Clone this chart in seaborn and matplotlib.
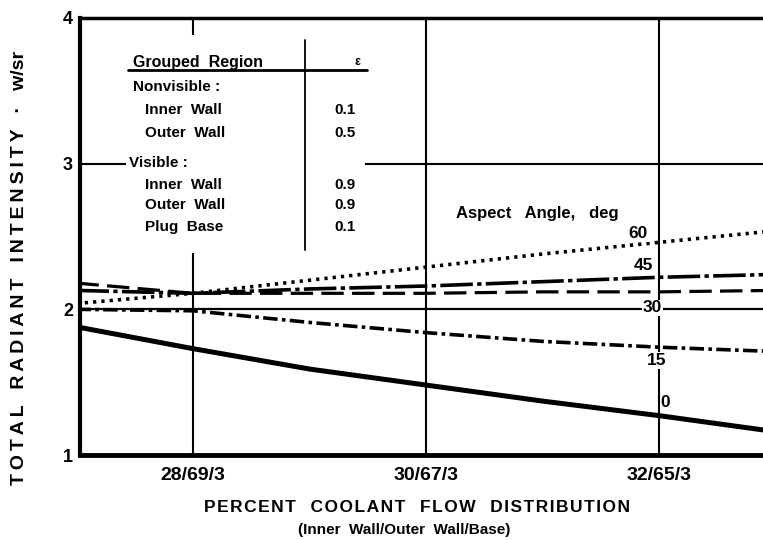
import seaborn as sns
import matplotlib.pyplot as plt
from matplotlib.patches import Rectangle
import numpy as np

# datos
flujo = [27.0, 28.0, 29.0, 30.0, 31.0, 32.0, 33.0]
ticks_x = [28, 30, 32]
ticks_lbl = ['28/69/3', '30/67/3', '32/65/3']

ang_60 = [2.04, 2.11, 2.20, 2.29, 2.38, 2.46, 2.54]
ang_45 = [2.13, 2.11, 2.14, 2.16, 2.19, 2.22, 2.24]
ang_xx = [2.18, 2.11, 2.11, 2.11, 2.12, 2.12, 2.13]   # linea discontinua sin rotulo
ang_30 = [2.00, 2.00, 2.00, 2.00, 2.00, 2.00, 2.00]
ang_15 = [2.00, 1.99, 1.91, 1.84, 1.78, 1.74, 1.71]
ang_0 = [1.88, 1.73, 1.59, 1.48, 1.37, 1.27, 1.16]

region = ['Nonvisible :', 'Inner  Wall', 'Outer  Wall', 'Visible :', 'Inner  Wall', 'Outer  Wall', 'Plug  Base']
eps = ['', '0.1', '0.5', '', '0.9', '0.9', '0.1']


def espaciado(s, sep='\u2009'):
    # letras separadas, como en la figura escaneada
    return sep.join(s)


sns.set_style('white')
plt.rcParams['font.family'] = ['Liberation Sans', 'DejaVu Sans']
plt.rcParams['font.weight'] = 'bold'
plt.rcParams['text.color'] = 'black'
plt.rcParams['xtick.color'] = 'black'
plt.rcParams['ytick.color'] = 'black'

fig = plt.figure(figsize=(7.63, 5.40), dpi=100)
ax = fig.add_axes([80 / 763, 85 / 540, 683 / 763, 437 / 540])

# rejilla
for xv in ticks_x:
    ax.axvline(xv, color='black', lw=1.5, zorder=1)
ax.axhline(3, color='black', lw=1.5, zorder=1)

series = [
    (ang_60, 2.6, (0, (0.9, 1.4))),
    (ang_45, 2.6, (0, (9, 1.2, 1.2, 1.2))),
    (ang_xx, 2.3, (0, (7, 2.6))),
    (ang_30, 1.6, '-'),
    (ang_15, 2.6, (0, (4, 1.2, 1.0, 1.2))),
    (ang_0, 3.6, '-'),
]
for vals, lw, ls in series:
    sns.lineplot(x=flujo, y=vals, ax=ax, color='black', lw=lw, linestyle=ls, zorder=2)

# rotulos de las curvas
rot = [('60', 31.82, 2.52), ('45', 31.86, 2.30), ('30', 31.94, 2.01),
       ('15', 31.98, 1.65), ('0', 32.05, 1.36)]
for t, xv, yv in rot:
    ax.text(xv, yv, t, ha='center', va='center', fontsize=12.5, zorder=5,
            bbox=dict(facecolor='white', edgecolor='none', pad=0.5))
ax.text(30.95, 2.66, 'Aspect   Angle,   deg', ha='center', va='center', fontsize=12, zorder=5)

# tabla de emisividades
ax.add_patch(Rectangle((0.067, 0.462), 0.350, 0.499, transform=ax.transAxes,
                       facecolor='white', edgecolor='none', zorder=3))
ax.text(0.078, 0.899, 'Grouped  Region', transform=ax.transAxes, fontsize=11.5,
        va='center', zorder=4)
ax.text(0.407, 0.899, 'ε', transform=ax.transAxes, fontsize=9, va='center',
        ha='center', zorder=4)
ax.plot([0.070, 0.420], [0.881, 0.881], transform=ax.transAxes, color='black', lw=2, zorder=4)
ax.plot([0.329, 0.329], [0.95, 0.469], transform=ax.transAxes, color='black', lw=1.3, zorder=4)
fila_y = [0.842, 0.789, 0.737, 0.668, 0.618, 0.572, 0.522]
for r, e, yy in zip(region, eps, fila_y):
    xx = 0.078 if r.endswith(':') else 0.095
    if r.startswith('Visible'):
        xx = 0.072
    ax.text(xx, yy, r, transform=ax.transAxes, fontsize=11, va='center', zorder=4)
    if e:
        ax.text(0.373, yy, e, transform=ax.transAxes, fontsize=11, va='center', zorder=4)

ax.set_xlim(27.03, 32.89)
ax.set_ylim(1, 4)
ax.set_xticks(ticks_x)
ax.set_xticklabels(ticks_lbl, fontsize=14)
ax.set_yticks([1, 2, 3, 4])
ax.set_yticklabels(['1', '2', '3', '4'], fontsize=13)
ax.tick_params(length=0, pad=5)
ax.tick_params(axis='x', pad=9)

for s in ['left', 'bottom', 'top']:
    ax.spines[s].set_color('black')
ax.spines['left'].set_linewidth(3)
ax.spines['bottom'].set_linewidth(3.5)
ax.spines['top'].set_linewidth(2.5)
ax.spines['right'].set_visible(False)

h = '\u200a'
fig.text(0.547, 1 - 508 / 540, espaciado('PERCENT', h) + '   ' + espaciado('COOLANT', h) + '   '
         + espaciado('FLOW', h) + '   ' + espaciado('DISTRIBUTION', h), ha='center', va='center',
         fontsize=12.5)
fig.text(0.53, 1 - 530 / 540, '(Inner  Wall/Outer  Wall/Base)', ha='center', va='center',
         fontsize=11)
fig.text(20 / 763, 1 - 268 / 540, espaciado('TOTAL') + '   ' + espaciado('RADIANT') + '   '
         + espaciado('INTENSITY') + '   ·   w/sr', rotation=90,
         ha='center', va='center', fontsize=14)

fig.savefig('out.png', dpi=100)
